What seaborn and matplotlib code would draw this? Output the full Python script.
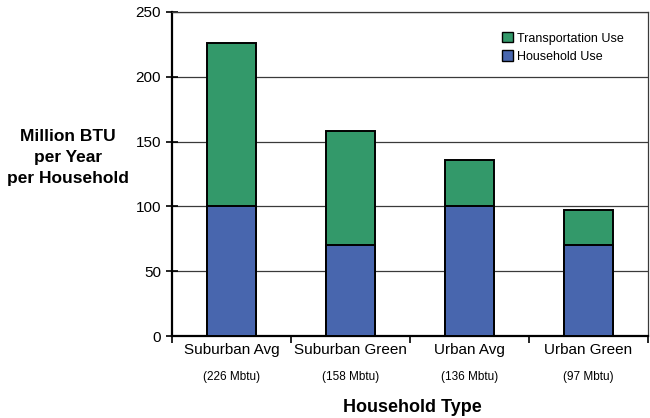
import matplotlib
matplotlib.use("Agg")
import matplotlib.pyplot as plt
import seaborn as sns
import pandas as pd
import numpy as np
from matplotlib.patches import Patch
from matplotlib.transforms import blended_transform_factory

categories = ["Suburban Avg", "Suburban Green", "Urban Avg", "Urban Green"]
sublabels = ["(226 Mbtu)", "(158 Mbtu)", "(136 Mbtu)", "(97 Mbtu)"]
household_use = [100, 70, 100, 70]
transportation_use = [126, 88, 36, 27]
yticks = [0, 50, 100, 150, 200, 250]

GREEN = "#33996a"
BLUE = "#4866ae"

sns.set_style("white")
plt.rcParams["font.family"] = ["Liberation Sans", "DejaVu Sans"]
plt.rcParams["text.color"] = "black"
plt.rcParams["xtick.color"] = "black"
plt.rcParams["ytick.color"] = "black"

df = pd.DataFrame({"cat": categories, "house": household_use, "trans": transportation_use})
df["total"] = df["house"] + df["trans"]

fig = plt.figure(figsize=(6.5, 4.18), dpi=100)
ax = fig.add_axes([0.2646, 0.196, 0.7324, 0.7753])

sns.barplot(data=df, x="cat", y="total", color=GREEN, saturation=1, width=0.41,
            edgecolor="black", linewidth=1.4, ax=ax, zorder=3)
sns.barplot(data=df, x="cat", y="house", color=BLUE, saturation=1, width=0.41,
            edgecolor="black", linewidth=1.4, ax=ax, zorder=4)

ax.set_ylim(0, 250)
ax.set_xlim(-0.5, 3.5)
ax.set_yticks(yticks)
ax.set_yticklabels([str(v) for v in yticks], fontsize=11)
ax.yaxis.grid(True, color="#3a3a3a", linewidth=0.9, zorder=1)
ax.set_axisbelow(True)

ax.set_xticks(range(len(categories)))
ax.set_xticklabels(categories, fontsize=11)
ax.set_xticks(np.arange(-0.5, len(categories), 1.0), minor=True)
ax.tick_params(axis="x", which="major", bottom=True, length=0, pad=5, labelcolor="black")
ax.tick_params(axis="x", which="minor", bottom=True, length=5, width=1.2, direction="out", color="black")
ax.tick_params(axis="y", which="major", left=True, length=8, width=1.2, direction="inout",
               color="black", pad=4, labelcolor="black")

trans = blended_transform_factory(ax.transData, ax.transAxes)
for i, s in enumerate(sublabels):
    ax.text(i, -0.126, s, transform=trans, ha="center", va="center", fontsize=8.5, color="black")

for side in ["left", "bottom"]:
    ax.spines[side].set_linewidth(1.6)
    ax.spines[side].set_color("black")
for side in ["top", "right"]:
    ax.spines[side].set_linewidth(0.9)
    ax.spines[side].set_color("#3a3a3a")
    ax.spines[side].set_visible(True)

ax.set_xlabel("")
ax.set_ylabel("")
fig.text(0.105, 0.624, "Million BTU\nper Year\nper Household", ha="center", va="center",
         fontsize=12.5, fontweight="bold", linespacing=1.5, color="black")
fig.text(0.635, 0.025, "Household Type", ha="center", va="center",
         fontsize=13, fontweight="bold", color="black")

handles = [Patch(facecolor=GREEN, edgecolor="black", linewidth=1.0, label="Transportation Use"),
           Patch(facecolor=BLUE, edgecolor="black", linewidth=1.0, label="Household Use")]
ax.legend(handles=handles, loc="upper left", bbox_to_anchor=(0.675, 0.965), frameon=False,
          fontsize=9, handlelength=0.9, handleheight=0.9, handletextpad=0.3, labelspacing=0.45,
          borderpad=0.2)

fig.savefig("out.png", dpi=100)
